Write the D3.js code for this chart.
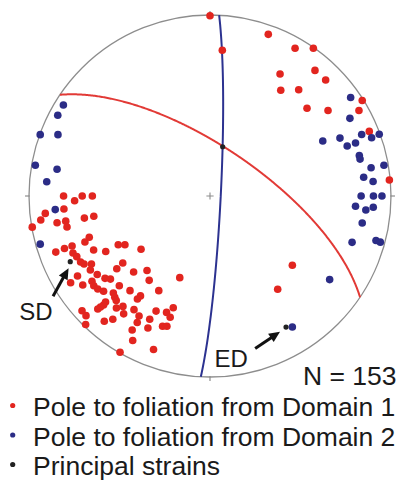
<!DOCTYPE html>
<html>
<head>
<meta charset="utf-8">
<script src="https://cdn.jsdelivr.net/npm/d3@7"></script>
<style>
  html, body { margin: 0; padding: 0; background: #fff; }
  svg { display: block; }
</style>
</head>
<body>
<svg id="chart" width="401" height="481"></svg>
<script>
// Lower-hemisphere equal-area net. Poles are given in net units [east, north],
// where the primitive circle has radius 1.
const domain1Poles = [
  [0.000, 0.996], [0.068, 0.805], [0.322, 0.893], [0.470, 0.816], [0.571, 0.816],
  [0.387, 0.674], [0.580, 0.694], [0.639, 0.641], [0.391, 0.584], [0.490, 0.587],
  [0.536, 0.485], [0.652, 0.472], [0.841, 0.528], [0.823, 0.472], [0.880, 0.357],
  [0.991, 0.088], [0.455, -0.383], [0.374, -0.515],
  [-0.809, 0.000], [-0.748, -0.026], [-0.706, 0.000], [-0.650, 0.000], [-0.807, -0.072],
  [-0.910, -0.096], [-0.935, -0.133], [-0.982, -0.172], [-0.845, -0.148], [-0.797, -0.139],
  [-0.790, -0.171], [-0.694, -0.122], [-0.642, -0.112], [-0.667, -0.228], [-0.691, -0.254],
  [-0.852, -0.310], [-0.804, -0.290], [-0.762, -0.276], [-0.757, -0.315], [-0.736, -0.335],
  [-0.643, -0.298], [-0.576, -0.307], [-0.507, -0.269], [-0.470, -0.269], [-0.381, -0.294],
  [-0.715, -0.365], [-0.696, -0.376], [-0.655, -0.376], [-0.661, -0.409], [-0.482, -0.370],
  [-0.515, -0.402], [-0.422, -0.420], [-0.348, -0.412], [-0.167, -0.451], [-0.732, -0.442],
  [-0.623, -0.434], [-0.580, -0.455], [-0.550, -0.459], [-0.336, -0.466], [-0.770, -0.479],
  [-0.703, -0.492], [-0.652, -0.471], [-0.642, -0.496], [-0.620, -0.514], [-0.588, -0.526],
  [-0.501, -0.496], [-0.534, -0.536], [-0.442, -0.523], [-0.283, -0.523], [-0.384, -0.552],
  [-0.401, -0.569], [-0.526, -0.560], [-0.518, -0.578], [-0.577, -0.586], [-0.588, -0.602],
  [-0.605, -0.613], [-0.620, -0.624], [-0.517, -0.619], [-0.481, -0.610], [-0.477, -0.651],
  [-0.420, -0.628], [-0.392, -0.663], [-0.402, -0.699], [-0.430, -0.740], [-0.427, -0.798],
  [-0.707, -0.634], [-0.685, -0.661], [-0.687, -0.710], [-0.584, -0.692], [-0.537, -0.681],
  [-0.333, -0.681], [-0.298, -0.636], [-0.343, -0.729], [-0.240, -0.643], [-0.203, -0.617],
  [-0.220, -0.670], [-0.262, -0.720], [-0.238, -0.720], [-0.497, -0.863], [-0.312, -0.848]
];

const domain2Poles = [
  [-0.810, 0.503], [-0.841, 0.446], [-0.938, 0.339], [-0.840, 0.339], [-0.965, 0.170],
  [-0.845, 0.148], [-0.902, 0.079], [-0.855, -0.075], [-0.938, -0.266],
  [0.777, 0.544], [0.773, 0.429], [0.623, 0.304], [0.718, 0.320], [0.758, 0.276],
  [0.804, 0.293], [0.838, 0.340], [0.893, 0.322], [0.935, 0.341], [0.825, 0.224],
  [0.829, 0.204], [0.961, 0.170], [0.890, 0.156], [0.849, 0.104], [0.901, 0.080],
  [0.835, 0.000], [0.903, 0.000], [0.950, 0.000], [0.804, -0.057], [0.861, -0.077],
  [0.902, -0.062], [0.841, -0.149], [0.785, -0.256], [0.917, -0.246], [0.941, -0.255],
  [0.661, -0.462], [0.455, -0.724]
];

// Principal strain axes (net units); SD and ED are labelled with arrows
const principalStrains = [
  { label: "",   pos: [0.070, 0.272] },
  { label: "SD", pos: [-0.772, -0.363] },
  { label: "ED", pos: [0.420, -0.724] }
];

// Mean foliation planes as [dip direction, dip] in degrees
const domainPlanes = [
  { domain: 1, dipDir: 34.0, dip: 68.0 },
  { domain: 2, dipDir: 92.9, dip: 85.2 }
];

const sampleCount = 153;
const legendLabels = [
  "Pole to foliation from Domain 1",
  "Pole to foliation from Domain 2",
  "Principal strains"
];

// ---- drawing ----
const colors = { 1: "#e2251f", 2: "#2b2c86", strain: "#222222" };
const lineColors = { 1: "#e23a36", 2: "#2c3290" };
const font = "'Liberation Sans', Arial, Helvetica, sans-serif";

const svg = d3.select("#chart");
const cx = 210, cy = 196, R = 181;
const x = d3.scaleLinear().domain([-1, 1]).range([cx - R, cx + R]);
const y = d3.scaleLinear().domain([-1, 1]).range([cy + R, cy - R]);
const rad = Math.PI / 180;

// primitive circle
svg.append("circle")
  .attr("cx", x(0)).attr("cy", y(0)).attr("r", x(1) - x(0))
  .attr("fill", "none").attr("stroke", "#8d8d8d").attr("stroke-width", 1.3);

// cardinal ticks
[0, 90, 180, 270].forEach(a => {
  const s = Math.sin(a * rad), c = Math.cos(a * rad);
  svg.append("line")
    .attr("x1", x(0.995 * s)).attr("y1", y(0.995 * c))
    .attr("x2", x(1.022 * s)).attr("y2", y(1.022 * c))
    .attr("stroke", "#8d8d8d").attr("stroke-width", 1.2);
});

// centre cross
const cr = 0.02;
svg.append("path")
  .attr("d", `M${x(-cr)},${y(0)}H${x(cr)}M${x(0)},${y(-cr)}V${y(cr)}`)
  .attr("stroke", "#8d8d8d").attr("stroke-width", 1.1).attr("fill", "none");

// great circle of a plane: lines in the plane, projected equal-area
function planeTrace(p) {
  const pts = [];
  for (let t = p.dipDir - 90; t <= p.dipDir + 90 + 1e-9; t += 0.25) {
    const pl = Math.atan(Math.tan(p.dip * rad) * Math.cos((t - p.dipDir) * rad));
    const r = Math.SQRT2 * Math.sin((Math.PI / 2 - Math.max(pl, 0)) / 2);
    pts.push([r * Math.sin(t * rad), r * Math.cos(t * rad)]);
  }
  return pts;
}
const line = d3.line().x(d => x(d[0])).y(d => y(d[1]));
svg.append("g").selectAll("path")
  .data(domainPlanes).join("path")
  .attr("d", d => line(planeTrace(d)))
  .attr("fill", "none")
  .attr("stroke", d => lineColors[d.domain])
  .attr("stroke-width", 2);

// poles
const dotR = 3.8;
svg.append("g").selectAll("circle")
  .data(domain1Poles).join("circle")
  .attr("cx", d => x(d[0])).attr("cy", d => y(d[1])).attr("r", dotR)
  .attr("fill", colors[1]);
svg.append("g").selectAll("circle")
  .data(domain2Poles).join("circle")
  .attr("cx", d => x(d[0])).attr("cy", d => y(d[1])).attr("r", dotR)
  .attr("fill", colors[2]);

// principal strains
svg.append("g").selectAll("circle")
  .data(principalStrains).join("circle")
  .attr("cx", d => x(d.pos[0])).attr("cy", d => y(d.pos[1])).attr("r", 2.6)
  .attr("fill", colors.strain);

// labelled arrows pointing at SD and ED
const callouts = {
  SD: { tip: [-1.7, 6.5], angle: -61, len: 32, text: [-51, 58] },
  ED: { tip: [-6, 4.7], angle: -34, len: 30, text: [-71.5, 39.7] }
};
principalStrains.filter(d => d.label).forEach(d => {
  const c = callouts[d.label];
  const px = x(d.pos[0]), py = y(d.pos[1]);
  const tx = px + c.tip[0], ty = py + c.tip[1];
  const ux = Math.cos(c.angle * rad), uy = Math.sin(c.angle * rad);
  const bx = tx - ux * c.len, by = ty - uy * c.len;
  svg.append("line")
    .attr("x1", bx).attr("y1", by)
    .attr("x2", tx - ux * 7).attr("y2", ty - uy * 7)
    .attr("stroke", "#111").attr("stroke-width", 3);
  const hl = 11, hw = 5;
  const hx = tx - ux * hl, hy = ty - uy * hl;
  svg.append("path")
    .attr("d", `M${tx},${ty}L${hx - uy * hw},${hy + ux * hw}L${hx + uy * hw},${hy - ux * hw}Z`)
    .attr("fill", "#111");
  svg.append("text")
    .attr("x", px + c.text[0]).attr("y", py + c.text[1])
    .attr("font-family", font).attr("font-size", 24).attr("fill", "#1a1a1a")
    .text(d.label);
});

// sample count
svg.append("text")
  .attr("x", 303).attr("y", 385)
  .attr("font-family", font).attr("font-size", 26.5).attr("fill", "#1a1a1a")
  .text(`N = ${sampleCount}`);

// legend
const legendColors = [colors[1], colors[2], colors.strain];
const legend = svg.append("g");
legendLabels.forEach((label, i) => {
  const base = 416 + i * 29.5;
  legend.append("circle")
    .attr("cx", 12.7).attr("cy", base - 10.5).attr("r", 2.6)
    .attr("fill", legendColors[i]);
  legend.append("text")
    .attr("x", 33).attr("y", base)
    .attr("font-family", font).attr("font-size", 26.5).attr("fill", "#1a1a1a")
    .text(label);
});
</script>
</body>
</html>
